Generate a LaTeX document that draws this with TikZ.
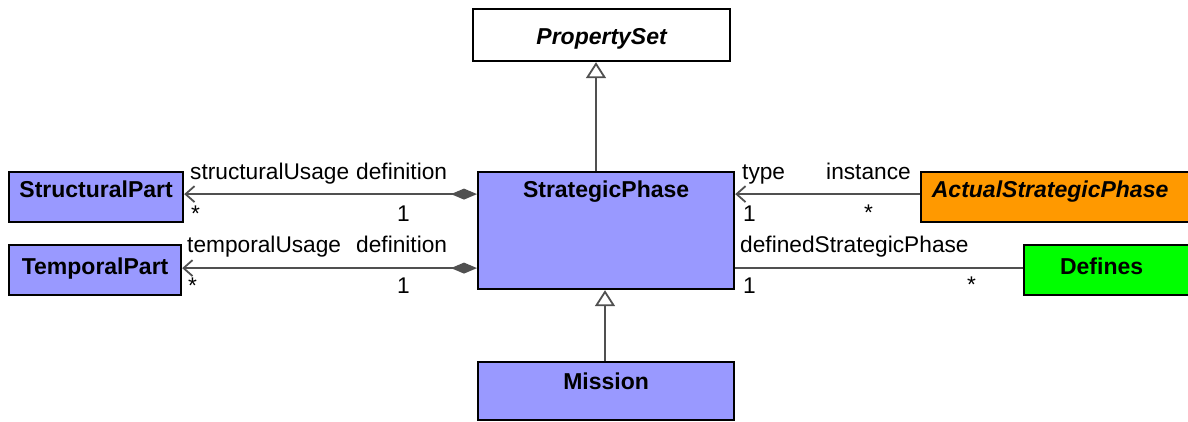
\documentclass[tikz,border=0pt]{standalone}
\usepackage{fontspec}
\setmainfont{Liberation Sans}
\usetikzlibrary{arrows.meta}
\definecolor{clsblue}{HTML}{9999FF}
\definecolor{clsorange}{HTML}{FF9900}
\definecolor{clsgreen}{HTML}{00FF00}
\definecolor{lnk}{HTML}{505050}
\begin{document}
\begin{tikzpicture}[x=1pt,y=-1pt,
  cls/.style={draw=black, line width=2.2pt, rectangle, anchor=north west, inner sep=0pt},
  ctitle/.style={anchor=base, font=\fontsize{23}{23}\selectfont\bfseries},
  lbl/.style={anchor=base west, inner sep=0pt, font=\fontsize{22.7}{23}\selectfont},
  link/.style={draw=lnk, line width=2pt},
  nav/.style={-{Straight Barb[length=9pt,width=16pt,line width=1.8pt]}},
  compnav/.style={{Diamond[length=26pt,width=11pt,fill=lnk]}-{Straight Barb[length=9pt,width=16pt,line width=1.8pt]}},
  gen/.style={-{Triangle[open,length=16pt,width=20pt,fill=white,line width=1.8pt]}}
]
\useasboundingbox (0,0) rectangle (1188,422);

\node[cls, fill=white, minimum width=257pt, minimum height=52pt,
  label={[ctitle, yshift=-37pt, font=\fontsize{23}{23}\selectfont\bfseries\itshape]north:PropertySet}] (ps) at (472,8) {};
\node[cls, fill=clsblue, minimum width=256pt, minimum height=117pt,
  label={[ctitle, yshift=-27pt]north:StrategicPhase}] (sp) at (477,171) {};
\node[cls, fill=clsblue, minimum width=256pt, minimum height=58pt,
  label={[ctitle, yshift=-28pt]north:Mission}] (mi) at (477,361) {};
\node[cls, fill=clsblue, minimum width=174pt, minimum height=50pt,
  label={[ctitle, yshift=-27pt]north:StructuralPart}] (st) at (8,171) {};
\node[cls, fill=clsblue, minimum width=172pt, minimum height=50pt,
  label={[ctitle, yshift=-30pt]north:TemporalPart}] (tp) at (8,244) {};
\node[cls, fill=clsorange, minimum width=270pt, minimum height=50pt,
  label={[ctitle, yshift=-27pt, xshift=-6pt, font=\fontsize{23}{23}\selectfont\bfseries\itshape]north:ActualStrategicPhase}] (asp) at (920,171) {};
\node[cls, fill=clsgreen, minimum width=167pt, minimum height=50pt,
  label={[ctitle, yshift=-30pt, xshift=-6pt]north:Defines}] (df) at (1023,244) {};

% generalizations
\coordinate (g1) at (596,0);
\coordinate (g2) at (605,0);
\draw[link, gen] (sp.north -| g1) -- (ps.south -| g1);
\draw[link, gen] (mi.north -| g2) -- (sp.south -| g2);

% compositions
\coordinate (c1) at ([yshift=3pt]st.east);
\coordinate (c2) at ([yshift=2pt]tp.east);
\draw[link, compnav] (sp.west |- c1) -- (c1);
\draw[link, compnav] (sp.west |- c2) -- (c2);

% associations
\coordinate (c3) at ([yshift=3pt]asp.west);
\coordinate (c4) at ([yshift=2pt]df.west);
\draw[link, nav] (c3) -- (sp.east |- c3);
\draw[link] (c4) -- (sp.east |- c4);

% role labels
\node[lbl] (l1) at (190,180) {structuralUsage};
\node[lbl] (l2) at (356,180) {definition};
\node[lbl] (l3) at (191,222) {*};
\node[lbl] (l4) at (397,222) {1};
\node[lbl] (l5) at (187,252) {temporalUsage};
\node[lbl] (l6) at (356,252) {definition};
\node[lbl] (l7) at (188,293) {*};
\node[lbl] (l8) at (397,293) {1};
\node[lbl] (r1) at (742,180) {type};
\node[lbl] (r2) at (826,180) {instance};
\node[lbl] (r3) at (743,222) {1};
\node[lbl] (r4) at (864,220) {*};
\node[lbl] (r5) at (740,252) {definedStrategicPhase};
\node[lbl] (r6) at (743,293) {1};
\node[lbl] (r7) at (967,292) {*};
\end{tikzpicture}
\end{document}
